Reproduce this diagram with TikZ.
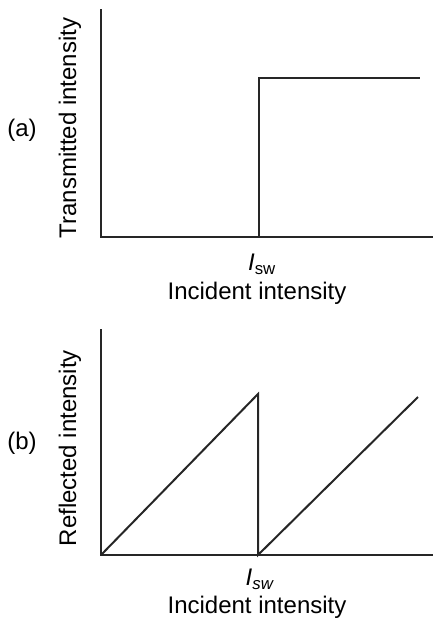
\documentclass[tikz,border=0pt]{standalone}
\usepackage{fontspec}
\setmainfont{Liberation Sans}
\begin{document}
\begin{tikzpicture}[x=1pt,y=-1pt,
  axis/.style={line width=2pt,draw=black!85,line cap=rect},
  curve/.style={line width=2pt,draw=black!85},
  lbl/.style={font=\fontsize{24}{27}\selectfont,inner sep=0pt}]
\useasboundingbox (0,0) rectangle (432,624);
% panel (a)
\coordinate (a0) at (101,237);
\coordinate (atop) at (101,10);
\coordinate (aend) at (432,237);
\coordinate (as) at (259,237);
\coordinate (ast) at (259,78);
\coordinate (aen) at (420,78);
\draw[axis] (atop) -- (a0) -- (aend);
\draw[curve] (as) -- (ast) -- (aen);
\node[lbl,rotate=90] (ya) at (70,128) {Transmitted intensity};
\node[lbl] (pa) at (22,130) {(a)};
\node[lbl] (isa) at (262,264) {\textit{I}\textsubscript{sw}};
\node[lbl] (xa) at (257,293) {Incident intensity};
% panel (b)
\coordinate (b0) at (101,555);
\coordinate (btop) at (101,330);
\coordinate (bend) at (432,555);
\coordinate (b1) at (258,394);
\coordinate (b2) at (258,555);
\coordinate (b3) at (418,397);
\draw[axis] (btop) -- (b0) -- (bend);
\draw[curve] (b0) -- (b1) -- (b2) -- (b3);
\node[lbl,rotate=90] (yb) at (70,448) {Reflected intensity};
\node[lbl] (pb) at (22,443) {(b)};
\node[lbl] (isb) at (260,579) {\textit{I}\textsubscript{\textit{sw}}};
\node[lbl] (xb) at (257,607) {Incident intensity};
\end{tikzpicture}
\end{document}
